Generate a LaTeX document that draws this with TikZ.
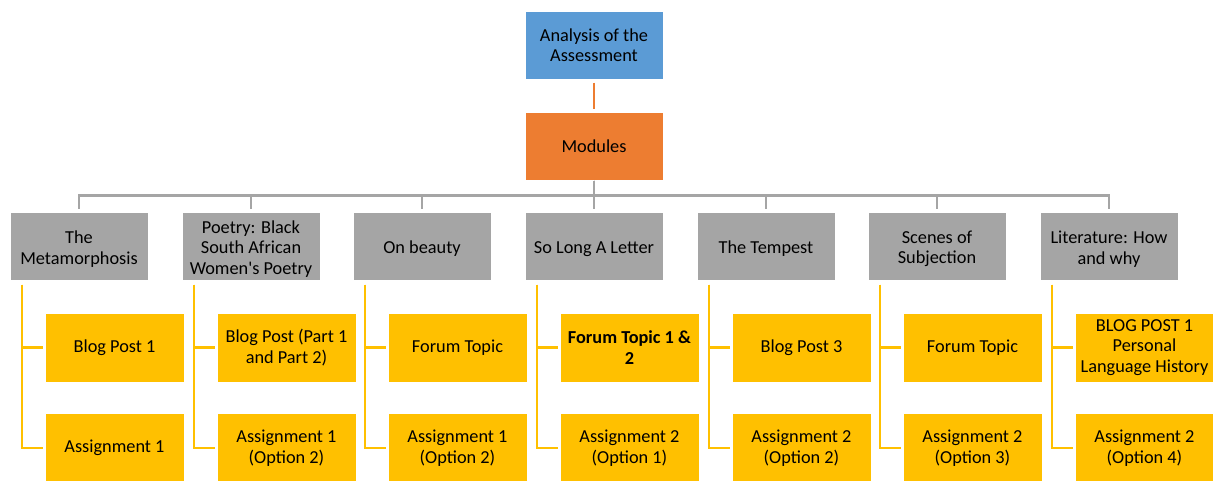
\documentclass[tikz,border=0pt]{standalone}
\usepackage{fontspec}
\setmainfont{Carlito}[Ligatures=TeXOff]
\usetikzlibrary{positioning}

\definecolor{boxblue}{HTML}{5B9BD5}
\definecolor{boxorange}{HTML}{ED7D31}
\definecolor{boxgrey}{HTML}{A5A5A5}
\definecolor{boxyellow}{HTML}{FFC000}

\begin{document}
\begin{tikzpicture}[x=1pt,y=-1pt,
    box/.style={minimum width=138pt, minimum height=68pt, inner sep=1pt,
                align=center, draw=white, line width=1pt,
                font=\fontsize{18.3}{20.5}\selectfont},
    topbox/.style={box, fill=boxblue},
    modbox/.style={box, fill=boxorange},
    greybox/.style={box, fill=boxgrey},
    titletext/.style={align=center, inner sep=0pt, font=\fontsize{18.3}{20.5}\selectfont},
    leafbox/.style={box, fill=boxyellow, minimum width=139pt, minimum height=69pt},
    orangeline/.style={draw=boxorange, line width=2.4pt, shorten <=3pt, shorten >=3pt},
    greyline/.style={draw=boxgrey, line width=2.7pt, shorten >=3pt},
    yellowline/.style={draw=boxyellow, line width=2.4pt, shorten >=2pt}
  ]
  \useasboundingbox (0,0) rectangle (1213,480);

  \node[topbox] (root) at (594,45) {Analysis of the\\Assessment};
  \node[modbox] (modules) at (594,146) {Modules};
  \draw[orangeline] (root) -- (modules);

  % one column per module: title, two tasks
  \foreach \i/\x/\title/\taska/\taskb in {
      1/79/{The\\Metamorphosis}/{Blog Post 1}/{Assignment 1},
      2/251/{Poetry: Black\\South African\\Women's Poetry}/{Blog Post (Part 1\\and Part 2)}/{Assignment 1\\(Option 2)},
      3/422/{On beauty}/{Forum Topic}/{Assignment 1\\(Option 2)},
      4/594/{So Long A Letter}/{\textbf{Forum Topic 1 \&}\\\textbf{2}}/{Assignment 2\\(Option 1)},
      5/766/{The Tempest}/{Blog Post 3}/{Assignment 2\\(Option 2)},
      6/937/{Scenes of\\Subjection}/{Forum Topic}/{Assignment 2\\(Option 3)},
      7/1109/{Literature: How\\and why}/{BLOG POST 1\\Personal\\Language History}/{Assignment 2\\(Option 4)}}
  {
    \node[greybox] (m\i) at (\x,246) {};
    \node[titletext] (m\i t) at ([yshift=-3pt]m\i.center) {\title};
    \node[leafbox] (m\i a) at (\x+35.5,347.5) {\taska};
    \node[leafbox] (m\i b) at (\x+35.5,448) {\taskb};
    \draw[greyline] (modules.south) -- ++(0,15) -| (m\i.north);
    \draw[yellowline] ([xshift=-57pt,yshift=-4pt]m\i.south) |- (m\i a.west);
    \draw[yellowline] ([xshift=-57pt,yshift=-4pt]m\i.south) |- (m\i b.west);
  }
\end{tikzpicture}
\end{document}
